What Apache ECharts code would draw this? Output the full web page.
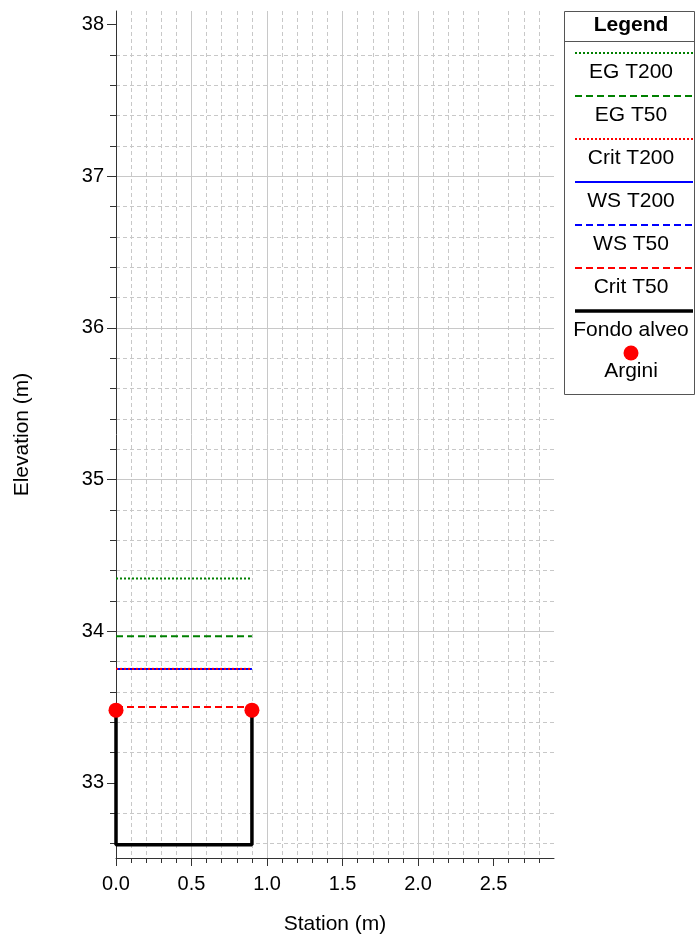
<!DOCTYPE html>
<html>
<head>
<meta charset="utf-8">
<script src="https://cdn.jsdelivr.net/npm/echarts@6/dist/echarts.min.js"></script>
<style>
  html, body { margin: 0; padding: 0; background: #fff; }
  #main { width: 695px; height: 935px; }
</style>
</head>
<body>
<div id="main"></div>
<script>
// sezione trasversale
const fondoX = [0, 0, 0.9, 0.9];
const fondoY = [33.48, 32.593, 32.593, 33.48];
const arginiX = [0, 0.9];
const arginiY = [33.48, 33.48];
const profileX = [0, 0.9];
const profileNames = ["EG T200", "EG T50", "Crit T200", "WS T200", "WS T50", "Crit T50"];
const profileLevels = [34.348, 33.967, 33.752, 33.752, 33.501, 33.501];
const xTickValues = [0, 0.5, 1, 1.5, 2, 2.5];
const yTickValues = [33, 34, 35, 36, 37, 38];

const FONT = "Liberation Sans, Arial, sans-serif";

// stile linee (colore, tipo, z)
const profileStyle = {
  "EG T200": { color: "#008000", type: [2, 2], z: 3 },
  "EG T50": { color: "#008000", type: [7, 4], z: 3 },
  "Crit T200": { color: "#ff0000", type: [2, 2], z: 5 },
  "WS T200": { color: "#0000ff", type: "solid", z: 4 },
  "WS T50": { color: "#0000ff", type: [7, 4], z: 4 },
  "Crit T50": { color: "#ff0000", type: [7, 4], z: 5 }
};

var chartDom = document.getElementById("main");
var myChart = echarts.init(chartDom);

const series = profileNames.map(function(name, i) {
  const st = profileStyle[name];
  return {
    name: name,
    type: "line",
    z: st.z,
    showSymbol: false,
    silent: true,
    lineStyle: { color: st.color, width: 2, type: st.type },
    data: profileX.map(function(x) { return [x, profileLevels[i]]; })
  };
});

series.push({
  name: "Fondo alveo",
  type: "line",
  z: 6,
  showSymbol: false,
  silent: true,
  lineStyle: { color: "#000", width: 3.5 },
  data: fondoX.map(function(x, i) { return [x, fondoY[i]]; })
});

series.push({
  name: "Argini",
  type: "scatter",
  z: 7,
  symbolSize: 15,
  silent: true,
  itemStyle: { color: "#ff0000", opacity: 1 },
  data: arginiX.map(function(x, i) { return [x, arginiY[i]]; })
});

// legenda disegnata a mano (linea sopra, testo sotto)
const legendNames = profileNames.concat(["Fondo alveo", "Argini"]);
const lgLeft = 564, lgTop = 11, lgW = 130, lgH = 383;
const lgCx = 631;
const graphic = [
  {
    type: "rect",
    shape: { x: lgLeft + 0.5, y: lgTop + 0.5, width: lgW, height: lgH },
    style: { fill: "#fff", stroke: "#555", lineWidth: 1 },
    z: 10
  },
  {
    type: "line",
    shape: { x1: lgLeft, y1: 41.5, x2: 695, y2: 41.5 },
    style: { stroke: "#555", lineWidth: 1 },
    z: 11
  },
  {
    type: "text",
    x: lgCx, y: 25,
    style: { text: "Legend", font: "bold 21px " + FONT, fill: "#000", align: "center", verticalAlign: "middle" },
    z: 11
  }
];
legendNames.forEach(function(name, i) {
  const lineY = 53 + i * 43;
  const textY = 72 + i * 43;
  if (name === "Argini") {
    graphic.push({
      type: "circle",
      shape: { cx: lgCx, cy: 353, r: 7.5 },
      style: { fill: "#ff0000" },
      z: 11
    });
    graphic.push({
      type: "text",
      x: lgCx, y: 371,
      style: { text: name, font: "21px " + FONT, fill: "#000", align: "center", verticalAlign: "middle" },
      z: 11
    });
    return;
  }
  const st = name === "Fondo alveo" ? { color: "#000", type: "solid" } : profileStyle[name];
  graphic.push({
    type: "line",
    shape: { x1: 575, y1: lineY, x2: 693, y2: lineY },
    style: {
      stroke: st.color,
      lineWidth: name === "Fondo alveo" ? 3.5 : 2,
      lineDash: st.type === "solid" ? null : st.type
    },
    z: 11
  });
  graphic.push({
    type: "text",
    x: lgCx, y: textY,
    style: { text: name, font: "21px " + FONT, fill: "#000", align: "center", verticalAlign: "middle" },
    z: 11
  });
});

var option = {
  animation: false,
  backgroundColor: "#fff",
  textStyle: { fontFamily: FONT },
  grid: { left: 116, right: 141, top: 11, bottom: 77, containLabel: false, outerBoundsMode: "none" },
  xAxis: {
    type: "value",
    min: 0,
    max: 2.9,
    interval: 0.5,
    name: "Station (m)",
    nameLocation: "middle",
    nameGap: 56,
    nameTextStyle: { fontSize: 21, color: "#000", fontFamily: FONT },
    axisLine: { show: true, onZero: false, lineStyle: { color: "#333", width: 1 } },
    axisTick: { show: true, length: 8, customValues: xTickValues, lineStyle: { color: "#333" } },
    minorTick: { show: true, splitNumber: 5, length: 5, lineStyle: { color: "#333" } },
    axisLabel: {
      fontSize: 20, color: "#000", margin: 16, fontFamily: FONT,
      formatter: function(v) { return Math.abs(v * 2 - Math.round(v * 2)) < 1e-6 ? v.toFixed(1) : ""; }
    },
    splitLine: { show: true, showMinLine: false, showMaxLine: false, lineStyle: { color: "#c8c8c8", width: 1 } },
    minorSplitLine: { show: true, lineStyle: { color: "#c8c8c8", width: 1, type: [4, 3] } }
  },
  yAxis: {
    type: "value",
    min: 32.505,
    max: 38.09,
    splitNumber: 5,
    name: "Elevation (m)",
    nameLocation: "middle",
    nameGap: 83,
    nameRotate: 90,
    nameTextStyle: { fontSize: 21, color: "#000", fontFamily: FONT },
    axisLine: { show: true, onZero: false, lineStyle: { color: "#333", width: 1 } },
    axisTick: { show: true, length: 9, customValues: yTickValues, lineStyle: { color: "#333" } },
    minorTick: { show: true, splitNumber: 5, length: 6, lineStyle: { color: "#333" } },
    axisLabel: {
      fontSize: 20, color: "#000", margin: 12, fontFamily: FONT,
      formatter: function(v) { return Number.isInteger(v) ? String(v) : ""; }
    },
    splitLine: { show: true, showMinLine: false, showMaxLine: false, lineStyle: { color: "#c8c8c8", width: 1 } },
    minorSplitLine: { show: true, lineStyle: { color: "#c8c8c8", width: 1, type: [4, 3] } }
  },
  series: series,
  graphic: graphic
};

option && myChart.setOption(option);
</script>
</body>
</html>
